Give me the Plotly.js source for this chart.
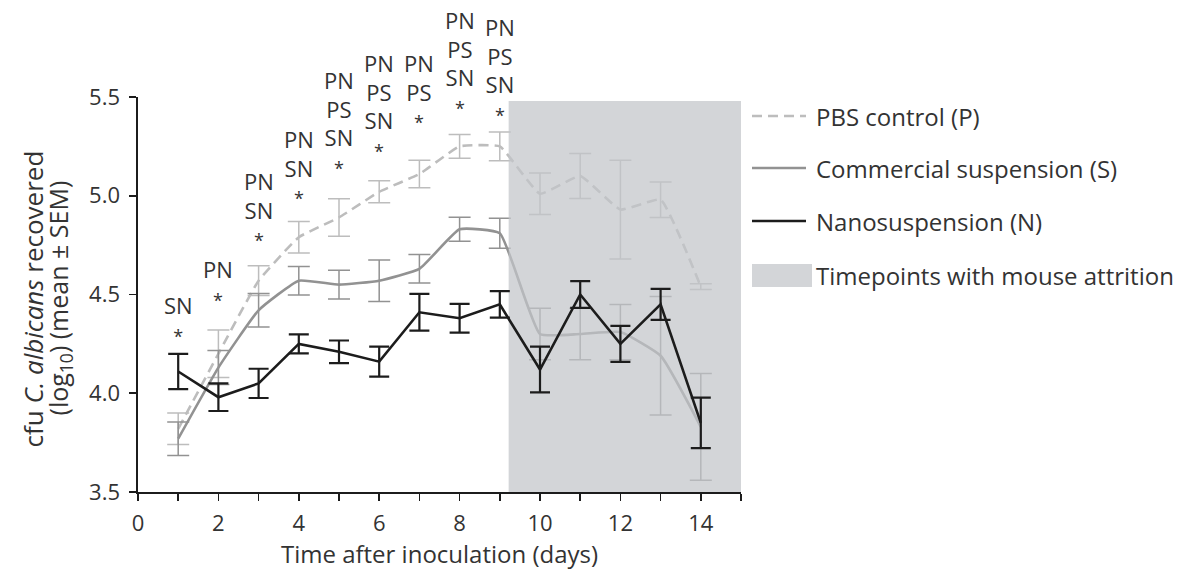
<!DOCTYPE html>
<html>
<head>
<meta charset="utf-8">
<script src="https://cdn.plot.ly/plotly-3.0.1.min.js"></script>
<style>
  html, body { margin: 0; padding: 0; background: #ffffff; }
  #chart { width: 1198px; height: 574px; }
</style>
</head>
<body>
<div id="chart"></div>
<script>
// ---------- data ----------
const days = [1, 2, 3, 4, 5, 6, 7, 8, 9, 10, 11, 12, 13, 14];

const pbsName = "PBS control (P)";
const pbsMean = [3.82, 4.20, 4.57, 4.79, 4.89, 5.02, 5.11, 5.25, 5.25, 5.01, 5.10, 4.93, 4.98, 4.54];
const pbsSem  = [0.08, 0.12, 0.075, 0.08, 0.095, 0.056, 0.07, 0.06, 0.073, 0.105, 0.114, 0.25, 0.09, 0.015];

const comName = "Commercial suspension (S)";
const comMean = [3.77, 4.13, 4.42, 4.57, 4.55, 4.57, 4.63, 4.83, 4.81, 4.30, 4.30, 4.31, 4.19, 3.83];
const comSem  = [0.085, 0.086, 0.085, 0.072, 0.073, 0.105, 0.072, 0.061, 0.076, 0.13, 0.13, 0.14, 0.30, 0.27];

const nanoName = "Nanosuspension (N)";
const nanoMean = [4.11, 3.98, 4.05, 4.25, 4.21, 4.16, 4.41, 4.38, 4.45, 4.12, 4.50, 4.25, 4.45, 3.85];
const nanoSem  = [0.089, 0.07, 0.074, 0.048, 0.057, 0.076, 0.093, 0.073, 0.067, 0.116, 0.068, 0.091, 0.078, 0.128];

const attritionName = "Timepoints with mouse attrition";
const attritionDays = [9.22, 15];      // shaded x span
const attritionLevels = [3.5, 5.48];   // shaded y span

// significance labels (day, label, level of the asterisk)
const sigDays   = [1, 2, 3, 4, 5, 6, 7, 8, 9];
const sigLabels = ["SN", "PN", "PN<br>SN", "PN<br>SN", "PN<br>PS<br>SN", "PN<br>PS<br>SN", "PN<br>PS", "PN<br>PS<br>SN", "PN<br>PS<br>SN"];
const sigStarY  = [4.305, 4.487, 4.79, 5.004, 5.156, 5.242, 5.39, 5.46, 5.425];

const xTickVals = [0, 2, 4, 6, 8, 10, 12, 14];
const xTickText = ["0", "2", "4", "6", "8", "10", "12", "14"];
const yTickVals = [3.5, 4.0, 4.5, 5.0, 5.5];
const yTickText = ["3.5", "4.0", "4.5", "5.0", "5.5"];

const xTitle = "Time after inoculation (days)";
const yTitleLines = ["cfu <i>C. albicans</i> recovered", "(log<sub>10</sub>) (mean ± SEM)"];

// ---------- styles ----------
const FONT = "Open Sans, Noto Sans, sans-serif";
const TXT = "#333333";
const AX = "#1c1c1c";
const colP = "#bdbdbd", colS = "#929292", colN = "#1c1c1c";
const shadeColor = "rgba(194,197,201,0.72)";

const M = {l: 138, r: 457, t: 97, b: 82};
const W = 1198, H = 574;
const PW = W - M.l - M.r, PH = H - M.t - M.b;
const px = v => (v - M.l) / PW;       // page x pixel -> paper
const py = v => (H - M.b - v) / PH;   // page y pixel -> paper

// ---------- traces ----------
const tP = {
  x: days, y: pbsMean, type: "scatter", mode: "lines", name: pbsName, showlegend: false,
  line: {color: colP, width: 2.6, dash: "10px,6px", shape: "spline", smoothing: 0.35},
  error_y: {type: "data", array: pbsSem, visible: true, color: colP, thickness: 1.5, width: 11}
};
const tS = {
  x: days, y: comMean, type: "scatter", mode: "lines", name: comName, showlegend: false,
  line: {color: colS, width: 2.6, shape: "spline", smoothing: 0.4},
  error_y: {type: "data", array: comSem, visible: true, color: colS, thickness: 1.5, width: 11}
};
const tShade = {
  x: [attritionDays[0], attritionDays[1], attritionDays[1], attritionDays[0], attritionDays[0]],
  y: [attritionLevels[0], attritionLevels[0], attritionLevels[1], attritionLevels[1], attritionLevels[0]],
  type: "scatter", mode: "lines", fill: "toself", fillcolor: shadeColor,
  line: {width: 0, color: "rgba(0,0,0,0)"}, name: attritionName, showlegend: false, hoverinfo: "skip"
};
const tN = {
  x: days, y: nanoMean, type: "scatter", mode: "lines", name: nanoName, showlegend: false,
  line: {color: colN, width: 2.6},
  error_y: {type: "data", array: nanoSem, visible: true, color: colN, thickness: 2.2, width: 10}
};

// ---------- annotations ----------
const annotations = [];
for (let i = 0; i < sigDays.length; i++) {
  annotations.push({
    x: sigDays[i], y: sigStarY[i], xref: "x", yref: "y",
    text: sigLabels[i] + "<br><span style=\"font-size:18px\">*</span>", showarrow: false,
    xanchor: "center", yanchor: "bottom", yshift: -17, align: "center",
    font: {family: FONT, size: 22, color: TXT}
  });
}

// y-axis title, two rotated lines
const yTitleX = [33, 59];
const yTitleSize = [26, 25];
yTitleLines.forEach((t, i) => {
  annotations.push({
    x: px(yTitleX[i]), y: 0.49, xref: "paper", yref: "paper", text: t, showarrow: false,
    textangle: -90, xanchor: "center", yanchor: "middle",
    font: {family: FONT, size: yTitleSize[i], color: TXT}
  });
});

// manual legend
const legendRows = [116, 168, 221, 275];
const legendNames = [pbsName, comName, nanoName, attritionName];
legendNames.forEach((name, i) => {
  annotations.push({
    x: px(814), y: py(legendRows[i]), xref: "paper", yref: "paper",
    text: name, showarrow: false, xanchor: "left", yanchor: "middle",
    font: {family: FONT, size: 24, color: TXT}
  });
});

const shapes = [
  {type: "line", xref: "paper", yref: "paper", x0: px(752), x1: px(806), y0: py(legendRows[0]), y1: py(legendRows[0]),
   line: {color: colP, width: 2.6, dash: "10px,6px"}},
  {type: "line", xref: "paper", yref: "paper", x0: px(752), x1: px(806), y0: py(legendRows[1]), y1: py(legendRows[1]),
   line: {color: colS, width: 2.6}},
  {type: "line", xref: "paper", yref: "paper", x0: px(752), x1: px(806), y0: py(legendRows[2]), y1: py(legendRows[2]),
   line: {color: colN, width: 2.6}},
  {type: "rect", xref: "paper", yref: "paper", x0: px(752), x1: px(812), y0: py(287), y1: py(264),
   line: {width: 0}, fillcolor: "#d3d5d8"}
];

const layout = {
  width: W, height: H,
  margin: M,
  paper_bgcolor: "#ffffff", plot_bgcolor: "#ffffff",
  showlegend: false,
  font: {family: FONT, size: 22, color: TXT},
  xaxis: {
    range: [0, 15], tickmode: "array", tickvals: xTickVals, ticktext: xTickText,
    showline: true, linecolor: AX, linewidth: 1.6, ticks: "outside", ticklen: 7, tickwidth: 1.6,
    tickcolor: AX, showgrid: false, zeroline: false, ticklabelstandoff: 4,
    minor: {dtick: 1, tick0: 0, ticks: "outside", ticklen: 7, tickwidth: 1.6, tickcolor: AX, showgrid: false},
    tickfont: {family: FONT, size: 22, color: TXT},
    title: {text: xTitle, font: {family: FONT, size: 24, color: TXT}, standoff: 4}
  },
  yaxis: {
    range: [3.5, 5.5], tickmode: "array", tickvals: yTickVals, ticktext: yTickText,
    showline: true, linecolor: AX, linewidth: 1.6, ticks: "outside", ticklen: 7, tickwidth: 1.6,
    tickcolor: AX, showgrid: false, zeroline: false, ticklabelstandoff: 5,
    tickfont: {family: FONT, size: 22, color: TXT}
  },
  annotations: annotations,
  shapes: shapes
};

Plotly.newPlot("chart", [tP, tS, tShade, tN], layout, {displayModeBar: false, staticPlot: true});
</script>
</body>
</html>
